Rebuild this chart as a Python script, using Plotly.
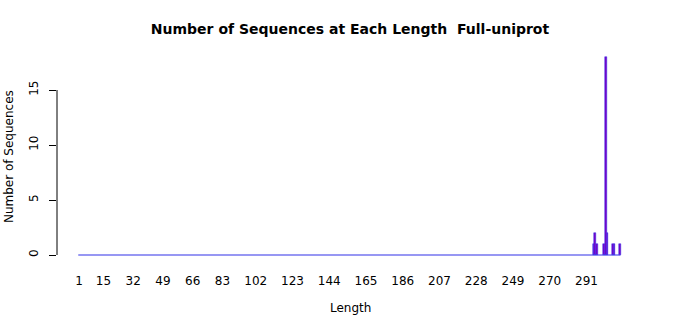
import plotly.graph_objects as go

# Data
min_length = 1
max_length = 310
lengths = [295, 296, 297, 301, 302, 303, 306, 307, 310]
counts = [1, 2, 1, 1, 18, 2, 1, 1, 1]

x_tickvals = [1, 15, 32, 49, 66, 83, 102, 123, 144, 165, 186, 207, 228, 249, 270, 291]
y_tickvals = [0, 5, 10, 15]

FONT = "DejaVu Sans"
BAR_FILL = "#7a00c4"
BAR_LINE = "#2a2aee"

fig = go.Figure()

# zero-height bars drawn as a baseline across all lengths (as R does)
fig.add_trace(go.Scatter(
    x=[min_length - 0.42, max_length + 0.42], y=[0, 0], mode="lines",
    line=dict(color="#3030e8", width=1.2), hoverinfo="skip", showlegend=False,
))

fig.add_trace(go.Bar(
    x=lengths, y=counts, width=0.95,
    marker=dict(color=BAR_FILL, line=dict(color=BAR_LINE, width=0.5)),
    showlegend=False,
))

fig.update_layout(
    width=700, height=315,
    margin=dict(l=57, r=57, t=50, b=53),
    paper_bgcolor="white", plot_bgcolor="white",
    font=dict(family=FONT, size=12, color="black"),
    bargap=0,
    title=dict(
        text="<b>Number of Sequences at Each Length\u00a0 Full-uniprot</b>",
        x=0.5, xanchor="center", xref="paper",
        y=1 - 29 / 315, yref="container", yanchor="middle",
        font=dict(family=FONT, size=14, color="black"),
    ),
    xaxis=dict(
        range=[-11.57, 323.3], tickvals=x_tickvals,
        ticktext=[str(v) for v in x_tickvals],
        showline=False, showgrid=False, zeroline=False, ticks="",
        ticklabelstandoff=10,
        tickfont=dict(family=FONT, size=12, color="black"),
    ),
    yaxis=dict(
        range=[-0.636, 18.636], tickvals=y_tickvals,
        showline=False, showgrid=False, zeroline=False,
        ticks="outside", ticklen=7, tickcolor="black", tickwidth=1,
        tickangle=-90, ticklabelstandoff=6,
        tickfont=dict(family=FONT, size=12, color="black"),
    ),
    shapes=[dict(
        type="line", xref="paper", x0=0, x1=0, yref="y",
        y0=y_tickvals[0], y1=y_tickvals[-1],
        line=dict(color="black", width=1),
    )],
    annotations=[
        dict(text="Length", xref="paper", yref="paper", x=0.5, y=-0.217,
             xanchor="center", yanchor="middle", showarrow=False,
             font=dict(family=FONT, size=12, color="black")),
        dict(text="Number of Sequences", xref="paper", yref="paper",
             x=-0.0819, y=0.495, xanchor="center", yanchor="middle",
             textangle=-90, showarrow=False,
             font=dict(family=FONT, size=12, color="black")),
    ],
)

fig.write_html("out.html")
